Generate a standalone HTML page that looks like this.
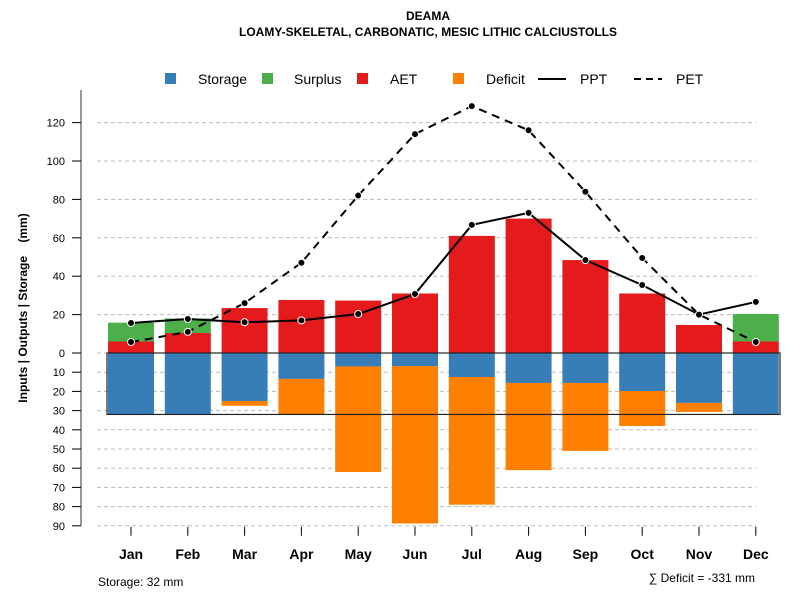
<!DOCTYPE html>
<html><head><meta charset="utf-8"><style>
body{margin:0;background:#fff}
svg text{font-family:"Liberation Sans",Arial,sans-serif}
</style></head><body>
<svg id="c" width="800" height="600" xmlns="http://www.w3.org/2000/svg">
<text x="428" y="20" text-anchor="middle" font-size="12" font-weight="bold">DEAMA</text>
<text x="428" y="36" text-anchor="middle" font-size="12" font-weight="bold">LOAMY-SKELETAL, CARBONATIC, MESIC LITHIC CALCIUSTOLLS</text>
<g font-size="14">
<rect x="165" y="73" width="11" height="11" fill="#377eb8"/><text x="198" y="84">Storage</text>
<rect x="262" y="73" width="11" height="11" fill="#4daf4a"/><text x="294" y="84">Surplus</text>
<rect x="357" y="73" width="11" height="11" fill="#e41a1c"/><text x="390" y="84">AET</text>
<rect x="453" y="73" width="11" height="11" fill="#ff7f00"/><text x="486" y="84">Deficit</text>
<line x1="538" y1="79" x2="566" y2="79" stroke="#000" stroke-width="2"/><text x="580" y="84">PPT</text>
<line x1="634" y1="79" x2="662" y2="79" stroke="#000" stroke-width="2" stroke-dasharray="7,5"/><text x="676" y="84">PET</text>
</g>
<text transform="translate(27,308) rotate(-90)" text-anchor="middle" font-size="12" font-weight="bold">Inputs | Outputs | Storage&#160;&#160;&#160;&#160;(mm)</text>
<text x="98" y="586" font-size="12">Storage: 32 mm</text>
<text x="755" y="582" text-anchor="end" font-size="12">∑ Deficit = -331 mm</text>
<g id="plot"></g>
</svg>
<script>
const months=["Jan","Feb","Mar","Apr","May","Jun","Jul","Aug","Sep","Oct","Nov","Dec"];
const aet=[6,10.4,23.4,27.6,27.3,31,61,70,48.4,31,14.6,6];
const surplus=[9.8,7.6,0,0,0,0,0,0,0,0,0,14.3];
const storage=[32,32,25,13.5,7,6.8,12.5,15.6,15.6,19.8,26,32];
const deficit=[0,0,2.5,18.5,55,82,66.5,45.4,35.4,18.2,4.7,0];
const ppt=[15.6,17.7,16,17,20.3,30.7,66.7,73,48.4,35.4,20,26.6];
const pet=[5.7,11,26,47,82,114,128.6,116,84,49.5,20,5.7];
const upTicks=[0,20,40,60,80,100,120];
const downTicks=[10,20,30,40,50,60,70,80,90];
const maxStorage=32;
const NS="http://www.w3.org/2000/svg";
const g=document.getElementById('plot');
const y0=353,k=1.92;
const yUp=v=>y0-v*k, yDn=v=>y0+v*k;
const x=i=>131+i*56.8, bw=46;
function el(t,a){const e=document.createElementNS(NS,t);for(const n in a)e.setAttribute(n,a[n]);g.appendChild(e);return e;}
upTicks.concat(downTicks.map(d=>-d)).forEach(v=>{const y=v>=0?yUp(v):yDn(-v);
 const l=el('line',{x1:97,x2:756,y1:y,y2:y,stroke:'#bbb','stroke-dasharray':'4,3'});
 
 });
const ya=el('line',{x1:81,x2:81,y1:90,y2:yDn(90),stroke:'#777','stroke-width':1.5});


upTicks.forEach(v=>{const y=yUp(v);el('line',{x1:72,x2:81,y1:y,y2:y,stroke:'#000'});
 const t=el('text',{x:65,y:y+4,'text-anchor':'end','font-size':11});t.textContent=v;
 
 });
downTicks.forEach(v=>{const y=yDn(v);el('line',{x1:72,x2:81,y1:y,y2:y,stroke:'#000'});
 const t=el('text',{x:65,y:y+4,'text-anchor':'end','font-size':11});t.textContent=v;
 
 });
months.forEach((m,i)=>{const xl=x(i)-bw/2;
 let b=el('rect',{x:xl,y:yUp(aet[i]),width:bw,height:aet[i]*k,fill:'#e41a1c'});
 
 
 if(surplus[i]>0){b=el('rect',{x:xl,y:yUp(aet[i]+surplus[i]),width:bw,height:surplus[i]*k,fill:'#4daf4a'});
 
 }
 b=el('rect',{x:xl,y:y0,width:bw,height:storage[i]*k,fill:'#377eb8'});
 
 
 if(deficit[i]>0){b=el('rect',{x:xl,y:yDn(storage[i]),width:bw,height:deficit[i]*k,fill:'#ff7f00'});
 
 }
 el('line',{x1:x(i),x2:x(i),y1:yDn(90)+1,y2:yDn(90)+10,stroke:'#000'});
 const t=el('text',{x:x(i),y:559,'text-anchor':'middle','font-size':14,'font-weight':'bold'});t.textContent=m;
 
 
});
const sb=el('rect',{x:107,y:y0,width:673,height:maxStorage*k,fill:'none',stroke:'#222','stroke-width':1.2});


function line(arr,dash,name){const p=el('polyline',{points:arr.map((v,i)=>x(i)+','+yUp(v)).join(' '),fill:'none',stroke:'#000','stroke-width':2,'stroke-dasharray':dash});
 
 
 arr.forEach((v,i)=>{const c=el('circle',{cx:x(i),cy:yUp(v),r:3.5,fill:'#000',stroke:'#fff','stroke-width':1});
 
 });}
line(ppt,'none','ppt');
line(pet,'8,6','pet');
</script>
</body></html>
